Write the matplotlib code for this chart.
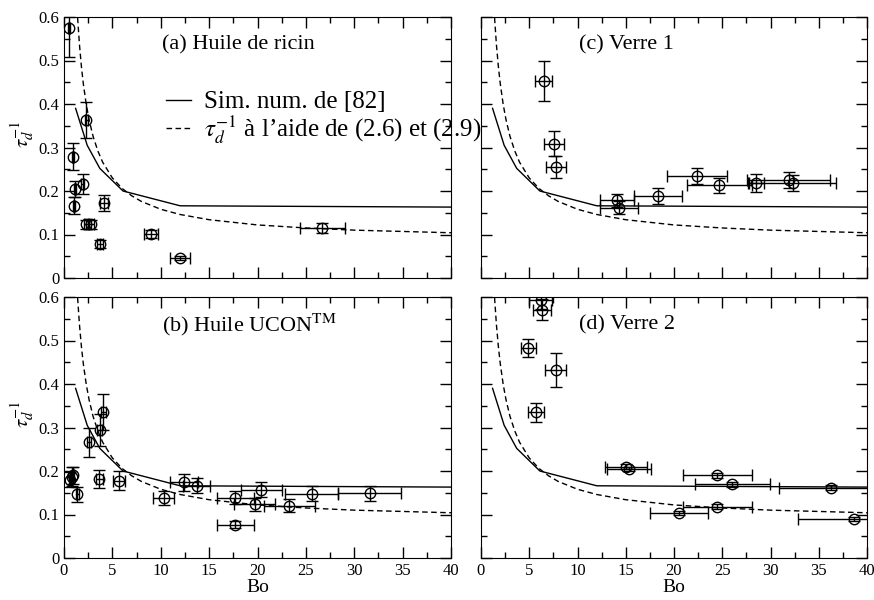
import matplotlib
matplotlib.use("Agg")
import matplotlib.pyplot as plt
from matplotlib.ticker import MultipleLocator

plt.rcParams["font.family"] = ["Liberation Serif", "DejaVu Serif"]
plt.rcParams["mathtext.fontset"] = "stix"

# simulation curve (solid) and model curve (dashed), shared by all panels
sim_bo = [1.2, 2.4, 3.7, 6.1, 12.0, 40.0]
sim_tau = [0.39, 0.305, 0.252, 0.2, 0.166, 0.163]

model_bo = [1.3, 1.4, 1.6, 1.8, 2.0, 2.3, 2.6, 3.0, 3.5, 4.0, 5.0, 6.0, 7.0,
            8.0, 10.0, 12.0, 15.0, 20.0, 25.0, 30.0, 35.0, 40.0]
model_tau = [0.64, 0.60, 0.536, 0.486, 0.446, 0.399, 0.363, 0.326, 0.292, 0.266,
             0.23, 0.206, 0.189, 0.176, 0.158, 0.146, 0.134, 0.122, 0.115,
             0.11, 0.107, 0.104]

# (a) Huile de ricin
a_bo = [0.5, 0.9, 1.05, 1.15, 1.95, 2.3, 2.3, 2.75, 3.75, 4.1, 9.0, 12.0, 26.7]
a_tau = [0.574, 0.279, 0.166, 0.204, 0.216, 0.363, 0.123, 0.123, 0.078, 0.173,
         0.101, 0.046, 0.115]
a_bo_err = [0.1, 0.1, 0.1, 0.1, 0.15, 0.15, 0.25, 0.3, 0.3, 0.4, 0.75, 1.0, 2.3]
a_tau_err = [0.065, 0.031, 0.02, 0.018, 0.024, 0.041, 0.011, 0.011, 0.009,
             0.018, 0.01, 0.005, 0.012]

# (b) Huile UCON
b_bo = [0.62, 0.79, 0.95, 1.37, 2.6, 3.7, 4.04, 3.63, 5.69, 10.3, 12.4, 13.7,
        17.7, 17.7, 19.7, 20.4, 23.3, 25.6, 31.6]
b_tau = [0.18, 0.187, 0.19, 0.146, 0.266, 0.294, 0.336, 0.181, 0.178, 0.138,
         0.174, 0.166, 0.138, 0.077, 0.124, 0.157, 0.12, 0.148, 0.149]
b_bo_err = [0.1, 0.1, 0.1, 0.15, 0.2, 0.25, 0.25, 0.35, 0.6, 1.1, 1.4, 1.4,
            1.9, 1.9, 2.1, 2.1, 2.6, 2.75, 3.25]
b_tau_err = [0.017, 0.022, 0.02, 0.017, 0.033, 0.036, 0.041, 0.021, 0.021,
             0.016, 0.02, 0.017, 0.015, 0.007, 0.015, 0.017, 0.015, 0.017, 0.017]

# (c) Verre 1
c_bo = [6.5, 7.55, 7.75, 14.1, 14.3, 18.35, 22.4, 24.7, 28.5, 31.9, 32.3]
c_tau = [0.452, 0.309, 0.255, 0.179, 0.162, 0.188, 0.234, 0.213, 0.218, 0.226, 0.218]
c_bo_err = [0.9, 1.0, 1.05, 1.8, 2.0, 2.5, 3.1, 3.4, 0.8, 4.3, 4.5]
c_tau_err = [0.046, 0.028, 0.025, 0.015, 0.015, 0.018, 0.019, 0.017, 0.02,
             0.018, 0.018]

# (d) Verre 2
d_bo = [6.2, 6.35, 4.9, 7.75, 5.7, 15.0, 15.35, 24.5, 26.05, 36.3, 24.5, 20.5, 38.65]
d_tau = [0.593, 0.571, 0.483, 0.432, 0.335, 0.21, 0.204, 0.19, 0.169, 0.162,
         0.118, 0.103, 0.089]
d_bo_err = [1.2, 0.95, 0.75, 1.1, 0.8, 2.2, 2.3, 3.6, 3.9, 5.4, 3.6, 3.0, 5.75]
d_tau_err = [0.02, 0.025, 0.021, 0.039, 0.022, 0.005, 0.005, 0.005, 0.005,
             0.005, 0.005, 0.005, 0.005]

panels = [
    ("(a) Huile de ricin", a_bo, a_tau, a_bo_err, a_tau_err),
    ("(c) Verre 1", c_bo, c_tau, c_bo_err, c_tau_err),
    ("(b) Huile UCON$^{\\mathrm{TM}}$", b_bo, b_tau, b_bo_err, b_tau_err),
    ("(d) Verre 2", d_bo, d_tau, d_bo_err, d_tau_err),
]

W, H = 874, 600
boxes = [(64, 17, 451, 278), (481, 17, 867, 278),
         (64, 297, 451, 558), (481, 297, 867, 558)]

fig = plt.figure(figsize=(W / 100, H / 100), dpi=100)

for i, (title, bo, tau, bo_err, tau_err) in enumerate(panels):
    x0, y0, x1, y1 = boxes[i]
    ax = fig.add_axes([x0 / W, 1 - y1 / H, (x1 - x0) / W, (y1 - y0) / H])
    ax.patch.set_alpha(0)

    ax.plot(sim_bo, sim_tau, color="black", lw=1.0, label="Sim. num. de [82]")
    ax.plot(model_bo, model_tau, color="black", lw=1.0, dashes=(4, 2.5),
            label=r"$\tau_d^{-1}$ à l’aide de (2.6) et (2.9)")
    ax.errorbar(bo, tau, xerr=bo_err, yerr=tau_err, fmt="o", mfc="none",
                mec="black", ms=7.5, mew=1.0, ecolor="black", elinewidth=1.0,
                capsize=4, capthick=1.0)

    ax.set_xlim(0, 40)
    ax.set_ylim(0, 0.6)
    ax.xaxis.set_major_locator(MultipleLocator(5))
    ax.xaxis.set_minor_locator(MultipleLocator(2.5))
    ax.yaxis.set_major_locator(MultipleLocator(0.1))
    ax.yaxis.set_minor_locator(MultipleLocator(0.05))
    ax.tick_params(which="both", direction="in", top=True, right=True,
                   labelsize=12, width=1.0)
    ax.tick_params(which="major", length=8)
    ax.tick_params(which="minor", length=4.5)
    ax.set_yticks([0, 0.1, 0.2, 0.3, 0.4, 0.5, 0.6])
    ax.set_yticklabels(["0", "0.1", "0.2", "0.3", "0.4", "0.5", "0.6"])

    if i % 2 == 0:
        ax.set_ylabel(r"$\tau_d^{-1}$", fontsize=15)
        ax.yaxis.set_label_coords(-0.072, 0.55)
    else:
        ax.tick_params(labelleft=False)
    if i < 2:
        ax.tick_params(labelbottom=False)
    else:
        ax.set_xlabel("Bo", fontsize=14)
        ax.xaxis.set_label_coords(0.5, -0.082)

    ax.text(0.253, 0.893, title, transform=ax.transAxes, fontsize=16,
            ha="left", va="center")

    if i == 0:
        handles, labels = ax.get_legend_handles_labels()

fig.legend(handles, labels, loc="upper left",
           bbox_to_anchor=(166 / W, 1 - 91 / H), frameon=False, fontsize=18,
           handlelength=1.0, handletextpad=0.5, labelspacing=0.0,
           borderpad=0, borderaxespad=0)

fig.savefig("out.png", dpi=100)
